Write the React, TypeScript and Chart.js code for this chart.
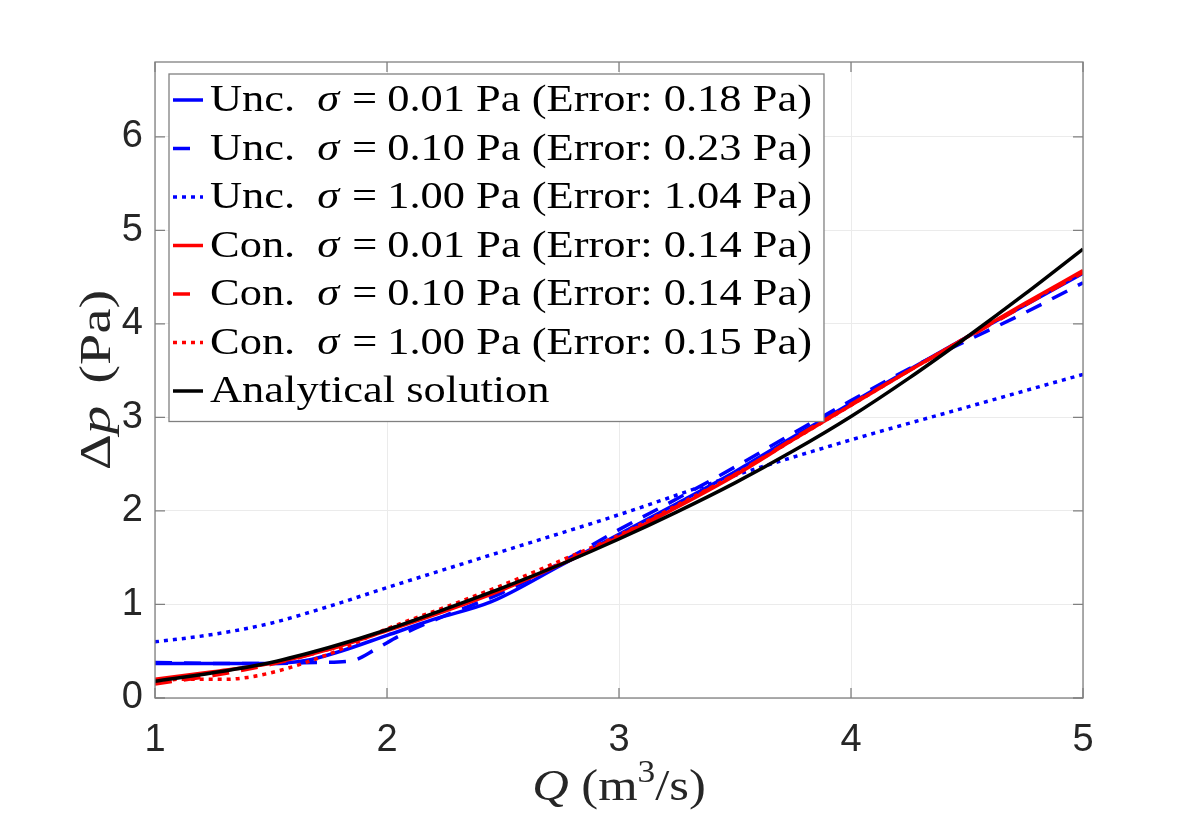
import React, { useEffect, useRef } from "react";
import { Chart, registerables } from "chart.js";
Chart.register(...registerables);

// ---- data ----
const xTicks = [1, 2, 3, 4, 5];
const yTicks = [0, 1, 2, 3, 4, 5, 6];

const uncS001Q = [1, 1.25, 1.5, 1.65, 1.8, 2, 2.2, 2.45, 2.75, 3, 3.25, 3.5, 3.75, 4, 4.25, 4.5, 4.75, 5];
const uncS001P = [0.37, 0.37, 0.37, 0.4, 0.5, 0.67, 0.84, 1.03, 1.42, 1.75, 2.08, 2.42, 2.79, 3.15, 3.51, 3.86, 4.2, 4.54];

const uncS010Q = [1, 1.25, 1.5, 1.7, 1.85, 1.95, 2.05, 2.25, 2.5, 2.75, 3, 3.25, 3.5, 3.75, 4, 4.25, 4.5, 4.75, 5];
const uncS010P = [0.38, 0.37, 0.37, 0.38, 0.4, 0.52, 0.66, 0.88, 1.13, 1.45, 1.8, 2.13, 2.47, 2.83, 3.18, 3.52, 3.82, 4.12, 4.44];

const uncS100Q = [1, 1.25, 1.5, 1.75, 2, 2.5, 3, 3.5, 4, 4.5, 5];
const uncS100P = [0.6, 0.68, 0.8, 0.98, 1.18, 1.57, 1.96, 2.38, 2.76, 3.11, 3.46];

const gridQ = [1, 1.25, 1.5, 1.75, 2, 2.25, 2.5, 2.75, 3, 3.25, 3.5, 3.75, 4, 4.25, 4.5, 4.75, 5];
const conS001P = [0.2, 0.28, 0.37, 0.52, 0.72, 0.93, 1.16, 1.43, 1.72, 2.04, 2.38, 2.76, 3.13, 3.5, 3.86, 4.22, 4.57];
const conS010P = [0.15, 0.24, 0.36, 0.52, 0.73, 0.94, 1.17, 1.44, 1.73, 2.05, 2.39, 2.77, 3.14, 3.5, 3.85, 4.2, 4.55];

const conS100Q = [1, 1.1, 1.2, 1.3, 1.4, 1.5, 1.65, 1.8, 2, 2.25, 2.5, 2.75, 3, 3.25, 3.5, 3.75, 4, 4.25, 4.5, 4.75, 5];
const conS100P = [0.16, 0.2, 0.2, 0.2, 0.22, 0.27, 0.38, 0.52, 0.74, 0.97, 1.21, 1.47, 1.74, 2.06, 2.39, 2.76, 3.13, 3.5, 3.86, 4.21, 4.56];

const analyticalP = [0.18, 0.27, 0.38, 0.54, 0.73, 0.95, 1.18, 1.43, 1.7, 1.99, 2.3, 2.64, 3.01, 3.42, 3.86, 4.32, 4.8];

const seriesLabels = [
  "Unc. σ = 0.01 Pa (Error: 0.18 Pa)",
  "Unc. σ = 0.10 Pa (Error: 0.23 Pa)",
  "Unc. σ = 1.00 Pa (Error: 1.04 Pa)",
  "Con. σ = 0.01 Pa (Error: 0.14 Pa)",
  "Con. σ = 0.10 Pa (Error: 0.14 Pa)",
  "Con. σ = 1.00 Pa (Error: 0.15 Pa)",
  "Analytical solution",
];

const yTitle = "Δp (Pa)";
const xTitle = "Q (m3/s)";

const SERIF = "'Liberation Serif', 'DejaVu Serif', serif";
const SANS = "'Liberation Sans', Arial, sans-serif";
const BOX = "#808080";

const zip = (xs: number[], ys: number[]) => xs.map((x, i) => ({ x, y: ys[i] }));

type Part = { t: string; italic?: boolean; scale?: number; dy?: number; gap?: number };

function drawParts(
  ctx: CanvasRenderingContext2D,
  parts: Part[],
  x: number,
  y: number,
  size: number,
  sx: number,
  measureOnly = false
) {
  let cx = x;
  for (const p of parts) {
    if (p.gap) {
      cx += p.gap;
      continue;
    }
    const s = size * (p.scale ?? 1);
    ctx.font = `${p.italic ? "italic " : ""}${s}px ${SERIF}`;
    const w = ctx.measureText(p.t).width * sx;
    if (!measureOnly) {
      ctx.save();
      ctx.translate(cx, y + (p.dy ?? 0) * size);
      ctx.scale(sx, 1);
      ctx.fillText(p.t, 0, 0);
      ctx.restore();
    }
    cx += w;
  }
  return cx - x;
}

function labelParts(label: string): Part[] {
  const i = label.indexOf("σ");
  if (i < 0) return [{ t: label }];
  const rest = label.slice(i + 1).trim(); // "= 0.01 Pa (...)"
  return [
    { t: label.slice(0, i).trim() },
    { t: "", gap: 22 },
    { t: "σ", italic: true },
    { t: "", gap: 13 },
    { t: rest.slice(0, 1) },
    { t: "", gap: 10 },
    { t: rest.slice(1).trim() },
  ];
}

const decorPlugin = {
  id: "decor",
  afterDatasetsDraw(chart: any) {
    const ctx: CanvasRenderingContext2D = chart.ctx;
    const a = chart.chartArea;
    const xs = chart.scales.x;
    const ys = chart.scales.y;
    ctx.save();
    // box
    ctx.strokeStyle = BOX;
    ctx.lineWidth = 1.3;
    ctx.strokeRect(a.left, a.top, a.right - a.left, a.bottom - a.top);
    // inner ticks
    ctx.beginPath();
    for (const v of xTicks) {
      const px = xs.getPixelForValue(v);
      ctx.moveTo(px, a.bottom);
      ctx.lineTo(px, a.bottom - 10);
      ctx.moveTo(px, a.top);
      ctx.lineTo(px, a.top + 10);
    }
    for (const v of yTicks) {
      const py = ys.getPixelForValue(v);
      ctx.moveTo(a.left, py);
      ctx.lineTo(a.left + 10, py);
      ctx.moveTo(a.right, py);
      ctx.lineTo(a.right - 10, py);
    }
    ctx.stroke();

    // legend
    const fs = 38;
    const lsx = 1.17;
    const rowH = 48.5;
    const bx = a.left + 14;
    const by = a.top + 12;
    const textX = bx + 41;
    let maxW = 0;
    for (const l of seriesLabels) {
      maxW = Math.max(maxW, drawParts(ctx, labelParts(l), 0, 0, fs, lsx, true));
    }
    const bw = textX - bx + maxW + 12;
    const bh = rowH * seriesLabels.length + 8;
    ctx.fillStyle = "#ffffff";
    ctx.fillRect(bx, by, bw, bh);
    ctx.strokeStyle = BOX;
    ctx.lineWidth = 1.3;
    ctx.strokeRect(bx, by, bw, bh);
    chart.data.datasets.forEach((ds: any, i: number) => {
      const cy = by + 26 + i * rowH;
      ctx.save();
      ctx.strokeStyle = ds.borderColor;
      ctx.lineWidth = ds.borderWidth;
      ctx.setLineDash(ds.borderDash || []);
      ctx.lineCap = "butt";
      ctx.beginPath();
      ctx.moveTo(bx + 4, cy);
      ctx.lineTo(bx + (ds.borderDash && ds.borderDash[0] > 10 ? 21 : 34), cy);
      ctx.stroke();
      ctx.restore();
      ctx.fillStyle = "#000000";
      ctx.textBaseline = "alphabetic";
      ctx.textAlign = "left";
      drawParts(ctx, labelParts(seriesLabels[i]), textX, cy + 11, fs, lsx);
    });

    // axis titles
    ctx.fillStyle = "#262626";
    ctx.textBaseline = "alphabetic";
    ctx.textAlign = "left";
    const yParts: Part[] = [
      { t: yTitle.slice(0, 1) },
      { t: "p", italic: true },
      { t: "", gap: 8 },
      { t: yTitle.slice(2) },
    ];
    const ysx = 1.28;
    const yfs = 44;
    const yw = drawParts(ctx, yParts, 0, 0, yfs, ysx, true);
    ctx.save();
    ctx.translate(110, (a.top + a.bottom) / 2);
    ctx.rotate(-Math.PI / 2);
    drawParts(ctx, yParts, -yw / 2, 0, yfs, ysx);
    ctx.restore();
    const xParts: Part[] = [
      { t: xTitle.slice(0, 1), italic: true },
      { t: " (m" },
      { t: xTitle.slice(4, 5), scale: 0.7, dy: -0.4 },
      { t: xTitle.slice(5) },
    ];
    const xsx = 1.15;
    const xfs = 44;
    const xw = drawParts(ctx, xParts, 0, 0, xfs, xsx, true);
    drawParts(ctx, xParts, (a.left + a.right) / 2 - xw / 2, 800, xfs, xsx);
    ctx.restore();
  },
};

export default function App() {
  const ref = useRef<HTMLCanvasElement | null>(null);
  useEffect(() => {
    if (!ref.current) return;
    const mk = (label: string, data: any[], color: string, dash: number[] | undefined, order: number) => ({
      label,
      data,
      borderColor: color,
      backgroundColor: color,
      borderWidth: 3.5,
      borderDash: dash,
      pointRadius: 0,
      fill: false,
      cubicInterpolationMode: "monotone",
      order,
    });
    const chart = new Chart(ref.current, {
      type: "line",
      data: {
        datasets: [
          mk(seriesLabels[0], zip(uncS001Q, uncS001P), "#0000ff", undefined, 7),
          mk(seriesLabels[1], zip(uncS010Q, uncS010P), "#0000ff", [17, 12], 6),
          mk(seriesLabels[2], zip(uncS100Q, uncS100P), "#0000ff", [4, 5], 5),
          mk(seriesLabels[3], zip(gridQ, conS001P), "#ff0000", undefined, 4),
          mk(seriesLabels[4], zip(gridQ, conS010P), "#ff0000", [17, 12], 3),
          mk(seriesLabels[5], zip(conS100Q, conS100P), "#ff0000", [4, 5], 2),
          mk(seriesLabels[6], zip(gridQ, analyticalP), "#000000", undefined, 1),
        ] as any,
      },
      options: {
        animation: false,
        responsive: false,
        devicePixelRatio: 1,
        layout: { padding: { left: 0, top: 62, right: 113, bottom: 0 } },
        plugins: { legend: { display: false }, tooltip: { enabled: false } },
        scales: {
          x: {
            type: "linear",
            min: 1,
            max: 5,
            afterBuildTicks: (s: any) => {
              s.ticks = xTicks.map((v) => ({ value: v }));
            },
            afterFit: (s: any) => {
              s.height = 116;
            },
            ticks: { font: { family: SANS, size: 38 }, color: "#262626", padding: 20, maxRotation: 0 },
            grid: { color: "#ebebeb", lineWidth: 1, drawTicks: false },
            border: { display: false },
          },
          y: {
            type: "linear",
            min: 0,
            max: 6.8,
            afterBuildTicks: (s: any) => {
              s.ticks = yTicks.map((v) => ({ value: v }));
            },
            afterFit: (s: any) => {
              s.width = 155;
            },
            ticks: { font: { family: SANS, size: 38 }, color: "#262626", padding: 12 },
            grid: { color: "#ebebeb", lineWidth: 1, drawTicks: false },
            border: { display: false },
          },
        },
      } as any,
      plugins: [decorPlugin],
    });
    return () => chart.destroy();
  }, []);
  return (
    <div style={{ position: "absolute", left: 0, top: 0, width: 1196, height: 814, background: "#fff" }}>
      <canvas ref={ref} width={1196} height={814} style={{ display: "block" }} />
    </div>
  );
}
